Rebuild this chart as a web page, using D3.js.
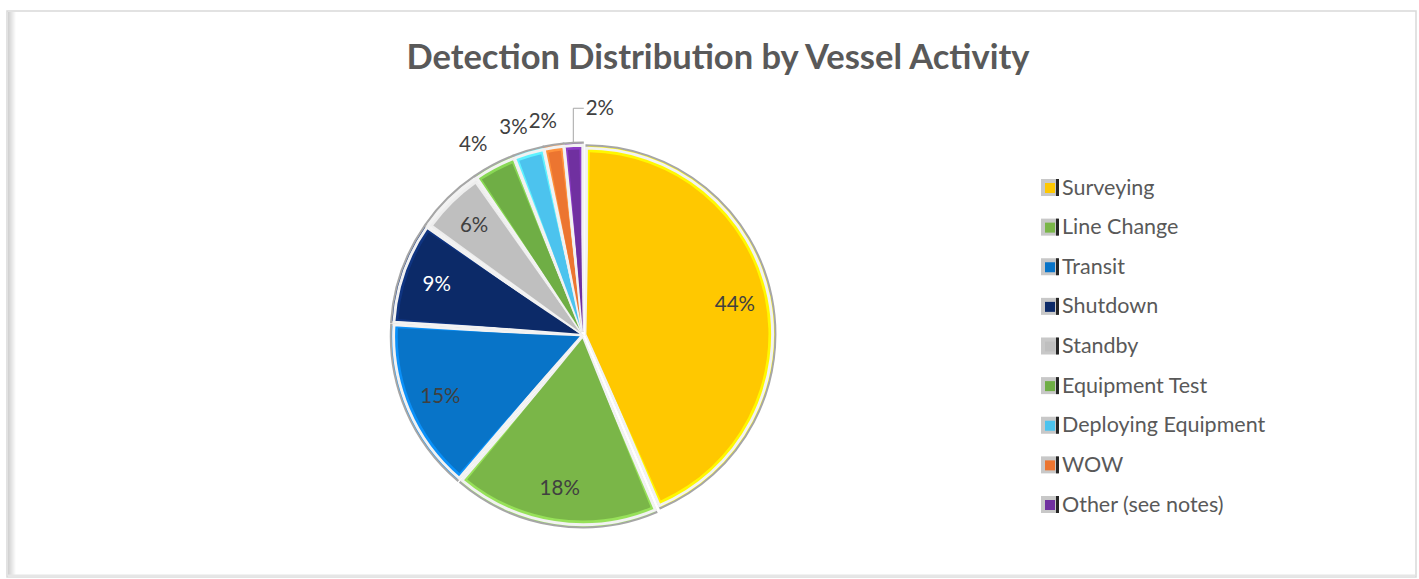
<!DOCTYPE html>
<html>
<head>
<meta charset="utf-8">
<script src="https://cdn.jsdelivr.net/npm/d3@7"></script>
<style>
  body { margin: 0; background: #ffffff; }
  svg { display: block; }
</style>
</head>
<body>
<script>
// data
const activities = ["Surveying", "Line Change", "Transit", "Shutdown", "Standby",
  "Equipment Test", "Deploying Equipment", "WOW", "Other (see notes)"]
const shares = [43.6, 17.6, 14.8, 8.7, 5.8, 3.6, 2.6, 1.7, 1.6]
const colors = ["#FFC800", "#7AB648", "#0874C8", "#0C2A68", "#BFBFBF",
  "#6FAE45", "#4CC3EE", "#EC7530", "#7030A0"]
const labelColors = ["#404040", "#404040", "#404040", "#ffffff", "#404040",
  "#404040", "#404040", "#404040", "#404040"]

const width = 1419, height = 579
const cx = 583, cy = 335, radius = 189
const explode = 3.5

const data = activities.map((a, i) => ({ name: a, value: shares[i], color: colors[i], labelColor: labelColors[i] }))
const total = d3.sum(shares)
const fmt = d => d3.format(".0%")(d.value / total)

const svg = d3.select("body").append("svg")
  .attr("width", width)
  .attr("height", height)

const defs = svg.append("defs")
const shadow = defs.append("linearGradient").attr("id", "lshadow")
shadow.append("stop").attr("offset", "0%").attr("stop-color", "#cfcfcf")
shadow.append("stop").attr("offset", "100%").attr("stop-color", "#ffffff")

// chart frame
svg.append("rect")
  .attr("x", 7).attr("y", 11)
  .attr("width", 1409).attr("height", 566)
  .attr("fill", "#ffffff")
  .attr("stroke", "#d9d9d9")
  .attr("stroke-width", 1.5)
svg.append("rect")
  .attr("x", 8).attr("y", 12)
  .attr("width", 8).attr("height", 564)
  .attr("fill", "url(#lshadow)")
svg.append("line")
  .attr("x1", 8).attr("x2", 1415).attr("y1", 576).attr("y2", 576)
  .attr("stroke", "#e6e6e6").attr("stroke-width", 3)

// title
svg.append("text")
  .attr("x", 718).attr("y", 69)
  .attr("text-anchor", "middle")
  .style("font-family", "Lato, 'Open Sans', sans-serif")
  .style("font-weight", "bold")
  .style("font-size", "34.5px")
  .style("fill", "#595959")
  .text("Detection Distribution by Vessel Activity")

// pie
const pie = d3.pie().sort(null).value(d => d.value)
const arcs = pie(data)

const outerArc = d3.arc().innerRadius(0).outerRadius(radius)
const innerArc = d3.arc().innerRadius(0).outerRadius(radius - 7).padAngle(0.045).padRadius(150)
const labelArc = d3.arc().innerRadius(radius * 0.82).outerRadius(radius * 0.82)
const outLabelArc = d3.arc().innerRadius(radius * 1.18).outerRadius(radius * 1.18)

const pieG = svg.append("g").attr("transform", `translate(${cx},${cy})`)

const slices = pieG.selectAll("g.slice")
  .data(arcs)
  .enter()
  .append("g")
  .attr("class", "slice")
  .attr("transform", d => {
    const a = (d.startAngle + d.endAngle) / 2
    return `translate(${Math.sin(a) * explode},${-Math.cos(a) * explode})`
  })

slices.append("path")
  .attr("d", outerArc)
  .attr("fill", d => d3.color(d.data.color).brighter(0.6))
  .attr("stroke", "#a6a6a6")
  .attr("stroke-width", 2)

slices.append("path")
  .attr("d", outerArc)
  .attr("fill", "none")
  .attr("stroke", "#f2f2f2")
  .attr("stroke-width", 3)
  .attr("transform", "scale(0.985)")

slices.append("path")
  .attr("d", innerArc)
  .attr("fill", d => d.data.color)

// labels
const isInside = d => d.data.value / total > 0.05

pieG.selectAll("text.pct")
  .data(arcs)
  .enter()
  .append("text")
  .attr("class", "pct")
  .attr("transform", (d, i) => {
    let [x, y] = isInside(d) ? labelArc.centroid(d) : outLabelArc.centroid(d)
    if (i === arcs.length - 1) { x += 28; y -= 4 }
    else if (!isInside(d)) { x -= 6; y += 6 }
    return `translate(${x},${y})`
  })
  .attr("text-anchor", "middle")
  .attr("dy", "0.35em")
  .style("font-family", "Lato, 'Open Sans', sans-serif")
  .style("font-size", "20.5px")
  .style("fill", d => d.data.labelColor)
  .text(fmt)

// leader line for the last slice
const last = arcs[arcs.length - 1]
const edge = d3.arc().innerRadius(radius + 4).outerRadius(radius + 4).centroid(last)
const [lx, ly] = outLabelArc.centroid(last)
pieG.append("polyline")
  .attr("points", [[edge[0], edge[1]], [edge[0], ly - 4], [lx + 12, ly - 4]].map(p => p.join(",")).join(" "))
  .attr("fill", "none")
  .attr("stroke", "#a6a6a6")
  .attr("stroke-width", 1)

// legend
const legendY = d3.scalePoint()
  .domain(activities)
  .range([187, 504])

const legend = svg.append("g")
const items = legend.selectAll("g")
  .data(data)
  .enter()
  .append("g")
  .attr("transform", d => `translate(1041,${legendY(d.name)})`)

items.append("rect")
  .attr("x", 0).attr("y", -8)
  .attr("width", 17).attr("height", 17)
  .attr("fill", "#c8c8c8")
items.append("rect")
  .attr("x", 4).attr("y", -4)
  .attr("width", 10).attr("height", 10)
  .attr("fill", d => d.color)
items.append("rect")
  .attr("x", 15).attr("y", -8)
  .attr("width", 3).attr("height", 17)
  .attr("fill", "#262626")

items.append("text")
  .attr("x", 21)
  .attr("dy", "0.35em")
  .style("font-family", "Lato, 'Open Sans', sans-serif")
  .style("font-size", "21.5px")
  .style("fill", "#595959")
  .text(d => d.name)
</script>
</body>
</html>
